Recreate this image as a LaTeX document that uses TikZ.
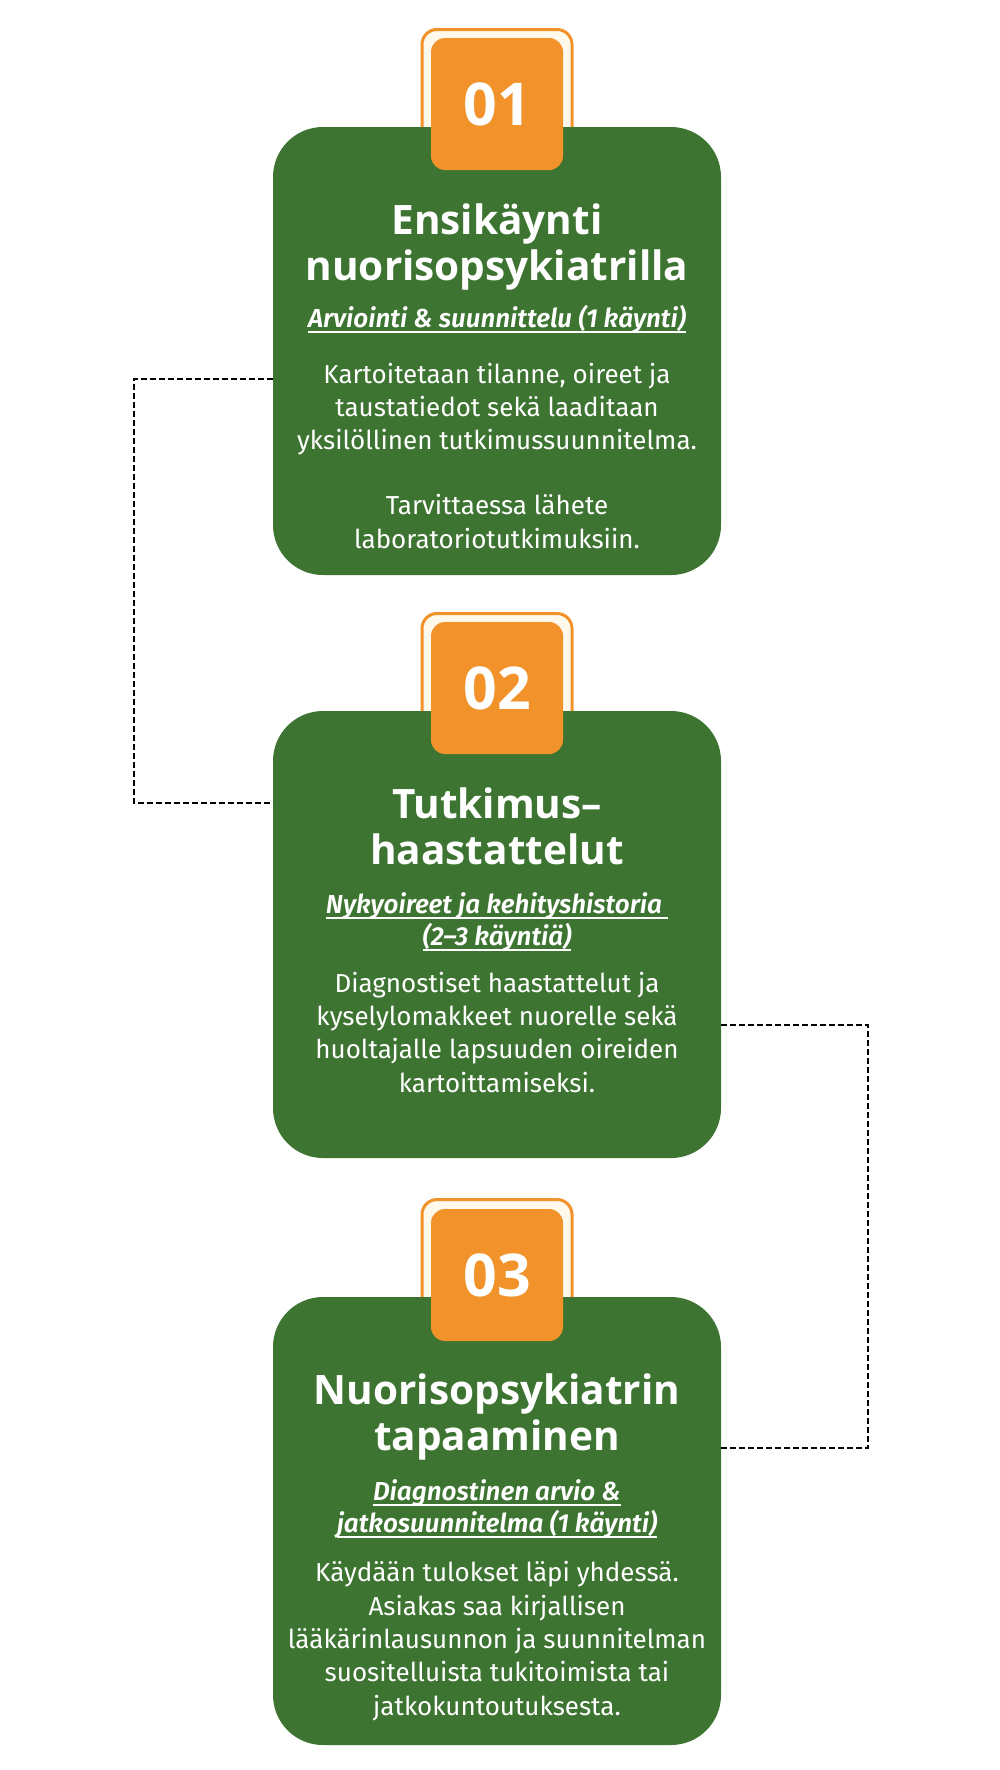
\documentclass[tikz,border=0pt]{standalone}
\usepackage{fontspec}
\setmainfont{Fira Sans}
\newfontfamily\headfont{Open Sans}
\newfontfamily\subfont{Fira Sans SemiBold Italic}
\definecolor{stepgreen}{HTML}{3E7431}
\definecolor{steporange}{HTML}{F2922B}
\definecolor{badgecream}{HTML}{FFF9EB}
\newcommand\subline[1]{\setbox0\hbox{#1}\rlap{\rule[-6pt]{\wd0}{1.7pt}}\box0}
\begin{document}
\begin{tikzpicture}[x=1pt,y=-1pt,
    stepbox/.style={fill=stepgreen, rounded corners=50pt, minimum width=448pt, inner sep=0pt},
    badgeframe/.style={draw=steporange, line width=3pt, fill=badgecream, rounded corners=15pt,
        minimum width=150pt, minimum height=120pt, inner sep=0pt},
    badgetile/.style={fill=steporange, rounded corners=14pt, minimum width=132pt, minimum height=132pt,
        inner sep=0pt, text=white, font=\headfont\bfseries\fontsize{59}{59}\selectfont},
    steptitle/.style={anchor=base, align=center, text=white, inner sep=0pt,
        font=\headfont\bfseries\fontsize{40.5}{46}\selectfont},
    stepsub/.style={anchor=base, align=center, text=white, inner sep=0pt, font=\subfont\fontsize{26}{32}\selectfont},
    stepbody/.style={anchor=base, align=center, text=white, inner sep=0pt, font=\fontsize{26}{33.3}\selectfont},
    link/.style={line width=1.5pt, dash pattern=on 6pt off 3pt}]
    \useasboundingbox [fill=white] (0,0) rectangle (1000,1770);

    % step 01 (text nodes sit on the baseline of their last line)
    \node [badgeframe] (frame1) at (497,89.5) {};
    \node [stepbox, minimum height=448pt] (box1) at (497,351) {};
    \node [badgetile] (tile1) at (497,104) {01};
    \node [steptitle] (title1) at (497,280) {Ensikäynti\\nuorisopsykiatrilla};
    \node [stepsub] (sub1) at (497,327) {\subline{Arviointi \& suunnittelu (1 käynti)}};
    \node [stepbody] (body1) at (497,548)
        {Kartoitetaan tilanne, oireet ja\\taustatiedot sekä laaditaan\\yksilöllinen tutkimussuunnitelma.\\[31.7pt]
         Tarvittaessa lähete\\laboratoriotutkimuksiin.};

    % step 02
    \node [badgeframe] (frame2) at (497,673.5) {};
    \node [stepbox, minimum height=447pt] (box2) at (497,934.5) {};
    \node [badgetile] (tile2) at (497,688) {02};
    \node [steptitle] (title2) at (497,864) {Tutkimus–\\haastattelut};
    \node [stepsub] (sub2) at (497,945)
        {\subline{Nykyoireet ja kehityshistoria\ }\\\subline{(2–3 käyntiä)}};
    \node [stepbody] (body2) at (497,1092)
        {Diagnostiset haastattelut ja\\kyselylomakkeet nuorelle sekä\\huoltajalle lapsuuden oireiden\\kartoittamiseksi.};

    % step 03
    \node [badgeframe] (frame3) at (497,1259.5) {};
    \node [stepbox, minimum height=448pt] (box3) at (497,1521) {};
    \node [badgetile] (tile3) at (497,1275) {03};
    \node [steptitle] (title3) at (497,1450) {Nuorisopsykiatrin\\tapaaminen};
    \node [stepsub] (sub3) at (497,1532)
        {\subline{Diagnostinen arvio \&}\\\subline{jatkosuunnitelma (1 käynti)}};
    \node [stepbody] (body3) at (497,1715)
        {Käydään tulokset läpi yhdessä.\\Asiakas saa kirjallisen\\lääkärinlausunnon ja suunnitelman\\suositelluista tukitoimista tai\\jatkokuntoutuksesta.};

    % connectors
    \draw [link] ([yshift=-28pt]box1.west) -- ++(-139,0) |- ([yshift=131.5pt]box2.west);
    \draw [link] ([yshift=-90.5pt]box2.east) -- ++(147,0) |- ([yshift=73pt]box3.east);
\end{tikzpicture}
\end{document}
